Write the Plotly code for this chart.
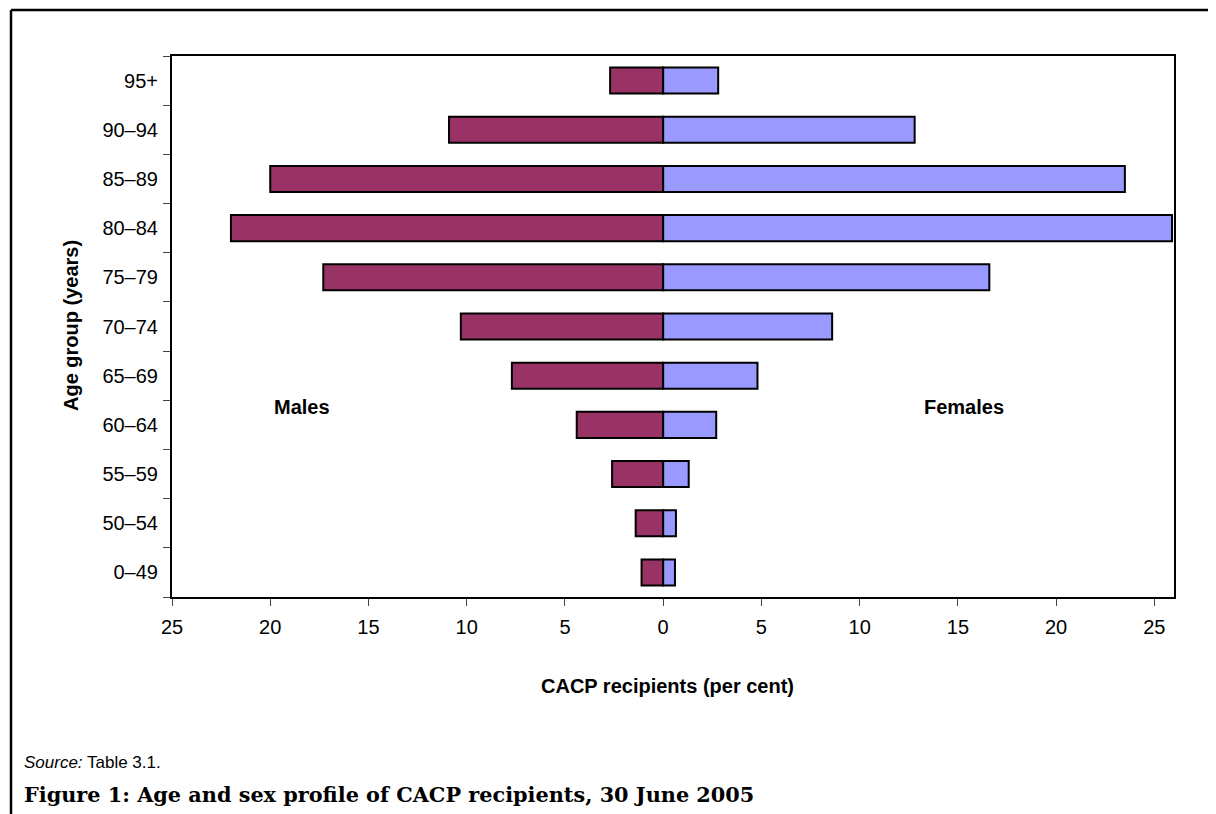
import plotly.graph_objects as go

# ---- data ----
age_groups = ["0–49", "50–54", "55–59", "60–64", "65–69", "70–74",
              "75–79", "80–84", "85–89", "90–94", "95+"]
males = [1.1, 1.4, 2.6, 4.4, 7.7, 10.3, 17.3, 22.0, 20.0, 10.9, 2.7]
females = [0.6, 0.65, 1.3, 2.7, 4.8, 8.6, 16.6, 25.9, 23.5, 12.8, 2.8]
x_tick_values = [-25, -20, -15, -10, -5, 0, 5, 10, 15, 20, 25]
x_tick_labels = ["25", "20", "15", "10", "5", "0", "5", "10", "15", "20", "25"]

# page has an 8px body margin; work in page pixels and convert
OFF = 8
W, H = 1216 - OFF, 814 - OFF
PLOT_L, PLOT_R, PLOT_T, PLOT_B = 172, 1174, 56, 597  # page pixels
L, R, T, B = PLOT_L - OFF, W - (PLOT_R - OFF), PLOT_T - OFF, H - (PLOT_B - OFF)
PW, PH = PLOT_R - PLOT_L, PLOT_B - PLOT_T


def px(x):
    return (x - PLOT_L) / PW


def py(y):
    return (PLOT_B - y) / PH


fig = go.Figure()
fig.add_trace(go.Bar(
    y=age_groups, x=[-v for v in males], orientation="h", name="Males",
    marker=dict(color="#993366", line=dict(color="black", width=2)),
))
fig.add_trace(go.Bar(
    y=age_groups, x=females, orientation="h", name="Females",
    marker=dict(color="#9999FF", line=dict(color="black", width=2)),
))

font_family = "Liberation Sans, Arial, sans-serif"

fig.update_layout(
    width=W, height=H,
    margin=dict(l=L, r=R, t=T, b=B, pad=0),
    paper_bgcolor="white", plot_bgcolor="white",
    barmode="relative", bargap=0.47,
    showlegend=False,
    font=dict(family=font_family, size=20, color="black"),
)

fig.update_xaxes(
    range=[-25, 26], tickvals=x_tick_values, ticktext=x_tick_labels,
    showgrid=False, zeroline=False,
    showline=True, linecolor="black", linewidth=2, mirror=True,
    ticks="outside", ticklen=7, tickcolor="#444", tickwidth=1,
    ticklabelstandoff=4,
    tickfont=dict(size=20, family=font_family),
)
fig.update_yaxes(
    type="category", categoryorder="array", categoryarray=age_groups,
    showgrid=False, zeroline=False,
    showline=True, linecolor="black", linewidth=2, mirror=True,
    ticks="outside", tickson="boundaries", ticklen=7, tickcolor="#444", tickwidth=1,
    ticklabelstandoff=8,
    tickfont=dict(size=20, family=font_family),
)

annotations = [
    dict(text="<b>Males</b>", x=-18.4, y=3.37, xref="x", yref="y",
         showarrow=False, xanchor="center", yanchor="middle",
         font=dict(size=20, family=font_family)),
    dict(text="<b>Females</b>", x=15.3, y=3.37, xref="x", yref="y",
         showarrow=False, xanchor="center", yanchor="middle",
         font=dict(size=20, family=font_family)),
    dict(text="<b>CACP recipients (per cent)</b>", x=px(667), y=py(686),
         xref="paper", yref="paper", showarrow=False,
         xanchor="center", yanchor="middle",
         font=dict(size=20, family=font_family)),
    dict(text="<b>Age group (years)</b>", x=px(71), y=py(326),
         xref="paper", yref="paper", showarrow=False, textangle=-90,
         xanchor="center", yanchor="middle",
         font=dict(size=20, family=font_family)),
    dict(text="<i>Source:</i> Table 3.1.", x=px(22), y=py(763),
         xref="paper", yref="paper", showarrow=False, xanchor="left", yanchor="middle",
         font=dict(size=17, family=font_family)),
    dict(text="<b>Figure 1: Age and sex profile of CACP recipients, 30 June 2005</b>",
         x=px(22), y=py(794), xref="paper", yref="paper", showarrow=False,
         xanchor="left", yanchor="middle",
         font=dict(size=20.8, family="DejaVu Serif, serif")),
]
fig.update_layout(annotations=annotations)

fig.update_layout(shapes=[
    dict(type="line", xref="paper", yref="paper", x0=px(11), x1=px(1216),
         y0=py(10), y1=py(10), line=dict(color="black", width=2.5)),
    dict(type="line", xref="paper", yref="paper", x0=px(11), x1=px(11),
         y0=py(10), y1=py(814), line=dict(color="black", width=2.5)),
])

fig.write_html("out.html")
